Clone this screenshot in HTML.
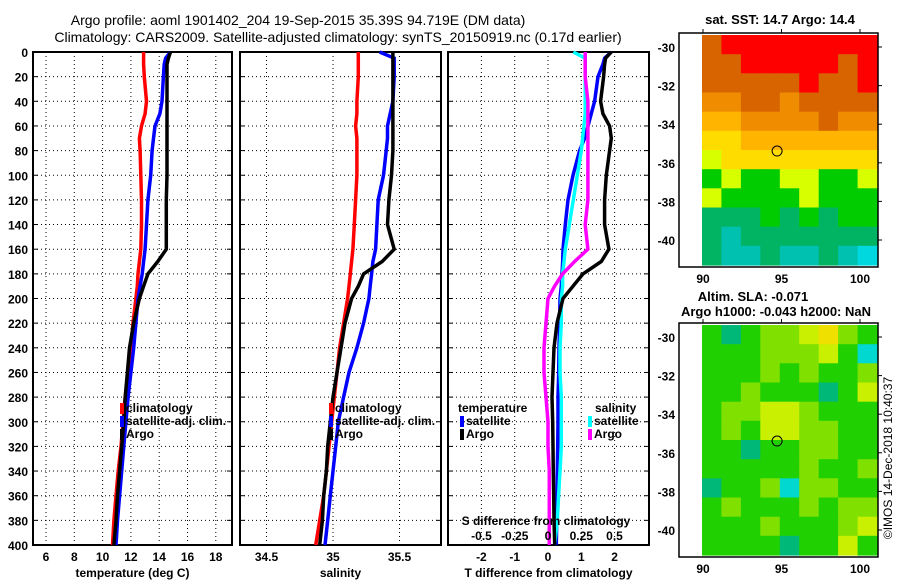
<!DOCTYPE html>
<html><head><meta charset="utf-8"><style>
html,body{margin:0;padding:0;background:#fff;}
svg{display:block;font-family:"Liberation Sans",Arial,sans-serif;}
.t{font-size:12px;font-weight:bold;fill:#000;}
.h{font-size:14px;fill:#000;}
</style></head><body>
<svg id="chart" width="900" height="580" viewBox="0 0 900 580">
<text class="h" x="298" y="25" text-anchor="middle">Argo profile: aoml 1901402_204 19-Sep-2015 35.39S 94.719E (DM data)</text>
<text class="h" x="338" y="42" text-anchor="middle">Climatology: CARS2009. Satellite-adjusted climatology: synTS_20150919.nc (0.17d earlier)</text>
<text class="t" x="780" y="24" text-anchor="middle" style="font-size:13px">sat. SST: 14.7 Argo: 14.4</text>
<text class="t" x="753" y="301" text-anchor="middle" style="font-size:13px">Altim. SLA: -0.071</text>
<text class="t" x="776" y="316" text-anchor="middle" style="font-size:13px">Argo h1000: -0.043 h2000: NaN</text>
<text class="t" x="0" y="0" transform="translate(892,458) rotate(-90)" text-anchor="middle" style="font-weight:normal;font-size:12px">©IMOS 14-Dec-2018 10:40:37</text>
</svg>
<script>
// ---- data ----
const depths=[0,5,10,20,40,50,60,70,80,100,120,140,160,170,180,190,200,220,240,260,280,300,320,340,360,380,400];
const tempArgo=[14.8,14.65,14.55,14.55,14.55,14.55,14.55,14.55,14.55,14.55,14.5,14.5,14.5,13.9,13.2,12.9,12.6,12.2,11.9,11.75,11.6,11.5,11.35,11.2,11.05,10.95,10.8];
const tempSat=[14.8,14.45,14.35,14.3,14.2,14.05,13.7,13.6,13.5,13.4,13.2,13.1,13.0,12.9,12.8,12.65,12.5,12.35,12.2,12.0,11.8,11.65,11.5,11.35,11.2,11.05,10.95];
const tempClim=[12.9,12.9,12.9,12.95,13.1,13.0,12.75,12.6,12.65,12.7,12.75,12.75,12.7,12.6,12.5,12.45,12.35,12.15,12.0,11.8,11.6,11.45,11.3,11.1,10.95,10.8,10.7];
const salArgo=[35.45,35.45,35.45,35.45,35.45,35.45,35.45,35.45,35.45,35.44,35.42,35.41,35.46,35.37,35.23,35.19,35.14,35.09,35.06,35.03,35.0,34.98,34.96,34.95,34.93,34.92,34.9];
const salSat=[35.35,35.46,35.46,35.46,35.45,35.43,35.41,35.41,35.4,35.38,35.34,35.33,35.32,35.3,35.29,35.28,35.27,35.23,35.18,35.12,35.08,35.04,35.02,35.0,34.98,34.96,34.94];
const salClim=[35.19,35.19,35.19,35.19,35.18,35.18,35.17,35.18,35.18,35.18,35.17,35.16,35.15,35.14,35.13,35.12,35.11,35.08,35.05,35.03,35.01,34.99,34.97,34.95,34.93,34.9,34.87];
const dTArgo=[1.9,1.73,1.7,1.67,1.58,1.65,1.85,1.9,1.85,1.75,1.7,1.7,1.83,1.6,1.05,0.75,0.45,0.27,0.18,0.15,0.12,0.14,0.15,0.16,0.17,0.18,0.2];
const dTSat=[1.9,1.7,1.65,1.5,1.4,1.3,1.2,1.1,0.95,0.75,0.6,0.52,0.45,0.44,0.42,0.4,0.36,0.35,0.33,0.32,0.3,0.3,0.29,0.28,0.27,0.26,0.25];
const dSSat=[0.19,0.28,0.28,0.28,0.28,0.28,0.27,0.26,0.25,0.22,0.19,0.16,0.13,0.12,0.11,0.11,0.1,0.1,0.09,0.09,0.1,0.1,0.1,0.09,0.08,0.07,0.05];
const dSArgo=[0.28,0.28,0.28,0.28,0.3,0.3,0.3,0.3,0.3,0.3,0.3,0.28,0.3,0.2,0.11,0.05,0.0,-0.015,-0.03,-0.03,-0.015,0.0,0.0,0.01,0.01,0.01,0.01];
const depthTicks=[0,20,40,60,80,100,120,140,160,180,200,220,240,260,280,300,320,340,360,380,400];
const tempTicks=[6,8,10,12,14,16,18];
const salTicks=[34.5,35,35.5];
const dTTicks=[-2,-1,0,1,2];
const dSTicks=[-0.5,-0.25,0,0.25,0.5];
const dSTickLabels=["-0.5","-0.25","0","0.25","0.5"];
const sstLevels=[
[1,0,0,0,0,0,0,0,0],[1,1,0,0,0,0,0,1,0],[1,1,1,1,1,0,1,1,0],[2,2,1,1,2,1,1,1,1],
[3,3,2,2,2,2,1,2,2],[4,4,3,3,3,3,3,3,3],[5,4,4,4,4,4,4,4,4],[6,5,6,6,5,5,6,6,5],
[5,6,6,6,6,5,6,6,6],[7,7,7,6,7,6,7,6,6],[7,8,7,7,7,7,7,7,7],[7,8,8,7,8,8,7,8,9]];
const sstColors=["#ff0000","#d86400","#f08c00","#ffb400","#ffdc00","#d8ff00","#00cc00","#00b464","#00c0b0","#00d8e0"];
const slaLevels=[
[3,4,3,2,2,1,0,2,3],[3,3,3,2,2,2,1,3,5],[3,3,3,2,3,2,3,3,2],[3,3,2,3,3,3,4,3,1],
[3,2,2,1,1,2,3,3,3],[3,2,3,1,1,2,2,3,3],[3,3,4,3,3,2,2,3,3],[3,3,3,3,3,2,3,3,2],
[4,3,3,2,5,2,2,3,3],[3,2,3,3,3,2,3,2,2],[3,3,3,2,3,3,3,2,1],[3,3,3,3,4,3,3,1,3]];
const slaColors=["#f0e000","#c8f000","#80e000","#20d000","#00b878","#00d8d0"];
const latTicks=[-30,-32,-34,-36,-38,-40];
const lonTicks=[90,95,100];
const argoLon=94.719, argoLat=-35.39;

const NS="http://www.w3.org/2000/svg";
const svg=document.getElementById('chart');
function mk(tag,attrs,parent){const e=document.createElementNS(NS,tag);for(const k in attrs)e.setAttribute(k,attrs[k]);(parent||svg).appendChild(e);return e;}
function txt(s,x,y,anchor,parent){const e=mk('text',{x:x,y:y,'text-anchor':anchor||'middle','class':'t'},parent);e.textContent=s;return e;}

const Y0=52,Y1=545;
const yD=d=>Y0+d*(Y1-Y0)/400;

function panel(name,x0,x1,xFn,ticks,labels,title){
  const g=mk('g',{});
  
  
  ticks.forEach(v=>{const x=xFn(v);
    const l=mk('line',{x1:x,x2:x,y1:Y0,y2:Y1,stroke:'#000','stroke-width':1,'stroke-dasharray':'1,3'},g);
    
    });
  depthTicks.forEach(d=>{const y=yD(d);
    const l=mk('line',{x1:x0,x2:x1,y1:y,y2:y,stroke:'#000','stroke-width':1,'stroke-dasharray':'1,3'},g);
    
    
    mk('line',{x1:x0,x2:x0+5,y1:y,y2:y,stroke:'#000'},g);mk('line',{x1:x1-5,x2:x1,y1:y,y2:y,stroke:'#000'},g);});
  const r=mk('rect',{x:x0,y:Y0,width:x1-x0,height:Y1-Y0,fill:'none',stroke:'#000','stroke-width':2},g);
  
  
  if(labels){ticks.forEach((v,i)=>{const t=txt(labels[i],xFn(v),561,'middle',g);
    
    });}
  const tt=txt(title,(x0+x1)/2,577,'middle',g);
  
  
  return g;
}
function series(name,vals,xFn,color,g){
  const pts=vals.map((v,i)=>xFn(v).toFixed(1)+','+yD(depths[i]).toFixed(1)).join(' ');
  const p=mk('polyline',{points:pts,fill:'none',stroke:color,'stroke-width':3.5,'stroke-linejoin':'miter'},g);
  
  
}
function legend(g,x,y,entries){
  entries.forEach((e,i)=>{
    const yy=y+i*13;
    const m=mk('rect',{x:x,y:yy-9,width:4,height:11,fill:e[1]},g);
    
    
    const t=txt(e[0],x+6,yy,'start',g);
    
    
  });
}
// Panel 1 temperature
const xT=v=>46+(v-6)*14.15;
const g1=panel('temperature-panel',33,232,xT,tempTicks,tempTicks.map(String),'temperature (deg C)');
series('temp-climatology-line',tempClim,xT,'#ff0000',g1);
series('temp-satellite-line',tempSat,xT,'#0000ff',g1);
series('temp-argo-line',tempArgo,xT,'#000000',g1);
legend(g1,120,412,[['climatology','#ff0000'],['satellite-adj. clim.','#0000ff'],['Argo','#000']]);
depthTicks.forEach(d=>{const t=txt(String(d),28,yD(d)+5,'end');
  
  });
// Panel 2 salinity
const xS=v=>333+(v-35)*133;
const g2=panel('salinity-panel',240,441,xS,salTicks,['34.5','35','35.5'],'salinity');
series('sal-climatology-line',salClim,xS,'#ff0000',g2);
series('sal-satellite-line',salSat,xS,'#0000ff',g2);
series('sal-argo-line',salArgo,xS,'#000000',g2);
legend(g2,329,412,[['climatology','#ff0000'],['satellite-adj. clim.','#0000ff'],['Argo','#000']]);
// Panel 3 differences
const xDT=v=>548+v*33.3;
const xDS=v=>548+v*133;
const g3=panel('difference-panel',448,649,xDT,dTTicks,dTTicks.map(String),'T difference from climatology');
series('dT-satellite-line',dTSat,xDT,'#0000ff',g3);
series('dS-satellite-line',dSSat,xDS,'#00ffff',g3);
series('dT-argo-line',dTArgo,xDT,'#000000',g3);
series('dS-argo-line',dSArgo,xDS,'#ff00ff',g3);
const th=txt('temperature',458,412,'start',g3);


legend(g3,460,425,[['satellite','#0000ff'],['Argo','#000']]);
const sh=txt('salinity',595,412,'start',g3);


legend(g3,588,425,[['satellite','#00ffff'],['Argo','#ff00ff']]);
const st=txt('S difference from climatology',546,525,'middle',g3);


dSTicks.forEach((v,i)=>{const t=txt(dSTickLabels[i],xDS(v),540,'middle',g3);
  
  });

// Maps
function map(name,top,levels,colors){
  const g=mk('g',{});
  
  
  const bx0=679,bx1=878,by0=top,by1=top+234;
  const lonX=lo=>703+(lo-90)*15.7;
  const latY=la=>top+14+(-30-la)*19.3;
  const dx0=702,dx1=877,dy0=top+2,dy1=top+232;
  const rows=levels.length,cols=levels[0].length;
  const cw=(dx1-dx0)/cols,ch=(dy1-dy0)/rows;
  levels.forEach((row,r)=>row.forEach((v,c)=>{
    const cell=mk('rect',{x:(dx0+c*cw).toFixed(1),y:(dy0+r*ch).toFixed(1),width:(cw+0.6).toFixed(1),height:(ch+0.6).toFixed(1),fill:colors[v]},g);
    
    
  }));
  const fr=mk('rect',{x:bx0,y:by0,width:bx1-bx0,height:by1-by0,fill:'none',stroke:'#000','stroke-width':1.5},g);
  
  
  latTicks.forEach(la=>{const y=latY(la);
    mk('line',{x1:bx1,x2:bx1+4,y1:y,y2:y,stroke:'#000'},g);
    const t=txt(String(la),675,y+5,'end',g);
    
    });
  lonTicks.forEach(lo=>{const x=lonX(lo);
    mk('line',{x1:x,x2:x,y1:by0-4,y2:by0,stroke:'#000'},g);
    const t=txt(String(lo),x,by1+16,'middle',g);
    
    });
  const c=mk('circle',{cx:lonX(argoLon),cy:latY(argoLat),r:5,fill:'none',stroke:'#000','stroke-width':1},g);
  
  
}
map('sst-map',33,sstLevels,sstColors);
map('sla-map',323,slaLevels,slaColors);
</script>
</body></html>
